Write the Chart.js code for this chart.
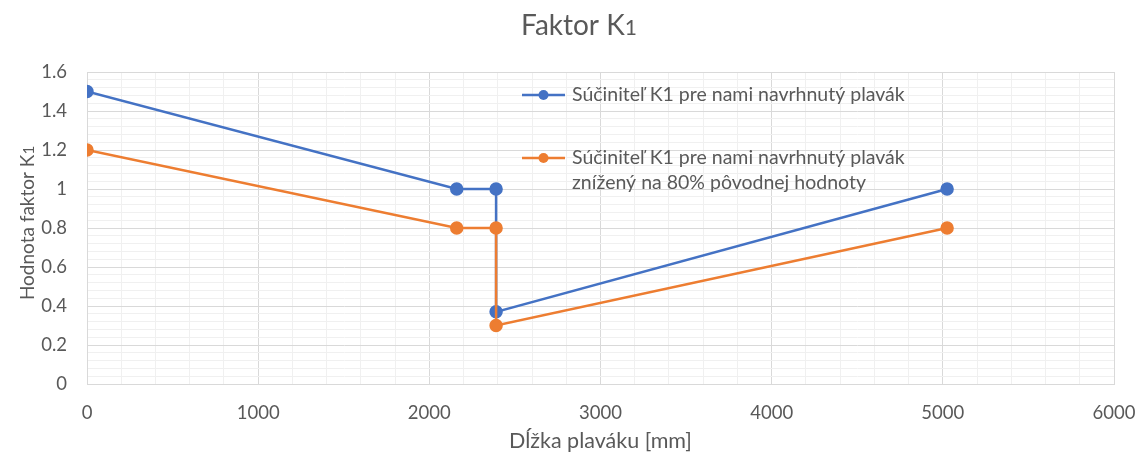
<!DOCTYPE html>
<html>
<head>
<meta charset="utf-8">
<script src="https://cdn.jsdelivr.net/npm/chart.js@4"></script>
<style>
	html, body {margin: 0; padding: 0; background: #ffffff;}
	#wrap {width: 1142px; height: 457px;}
</style>
</head>
<body>
<div id="wrap"><canvas id="chart"></canvas></div>
<script>
// dĺžka plaváku [mm] a hodnoty K1
var lengths = [0, 2160, 2390, 2390, 5025];
var k1Design = [1.5, 1.0, 1.0, 0.37, 1.0];
var k1Reduced = [1.2, 0.8, 0.8, 0.3, 0.8];

var seriesNames = [
	["Súčiniteľ K1 pre nami navrhnutý plavák"],
	["Súčiniteľ K1 pre nami navrhnutý plavák", "znížený na 80% pôvodnej hodnoty"],
];
var seriesColors = ["#4472C4", "#ED7D31"];

const FONT = "Lato, 'Open Sans', sans-serif";
const TEXT = "#595959";

function points(xs, ys) {
	return xs.map((x, i) => ({"x": x, "y": ys[i]}));
}

// text like "K" + smaller "1"
function drawRich(ctx, parts, x, y) {
	var total = 0;
	parts.forEach(function (p) {
		ctx.font = p.size + "px " + FONT;
		total += ctx.measureText(p.text).width;
	});
	var cx = x - total / 2;
	parts.forEach(function (p) {
		ctx.font = p.size + "px " + FONT;
		ctx.textAlign = "left";
		ctx.textBaseline = "alphabetic";
		ctx.fillText(p.text, cx, y);
		cx += ctx.measureText(p.text).width;
	});
}

const titlesPlugin = {
	id: "titles",
	afterDraw(chart) {
		const ctx = chart.ctx;
		ctx.save();
		ctx.fillStyle = TEXT;
		drawRich(ctx, [{"text": "Faktor K", "size": 28}, {"text": "1", "size": 21}], 579, 35);

		ctx.translate(28, 223);
		ctx.rotate(-Math.PI / 2);
		drawRich(ctx, [{"text": "Hodnota faktor K", "size": 19}, {"text": "1", "size": 15}], 0, 6);
		ctx.restore();
	},
};

const legendPlugin = {
	id: "inlineLegend",
	afterDatasetsDraw(chart) {
		const ctx = chart.ctx;
		const area = chart.chartArea;
		const rows = [95, 158];
		ctx.save();
		seriesNames.forEach(function (lines, i) {
			const y = rows[i];
			const x0 = area.left + 435;
			ctx.strokeStyle = seriesColors[i];
			ctx.lineWidth = 2.5;
			ctx.beginPath();
			ctx.moveTo(x0, y);
			ctx.lineTo(x0 + 43, y);
			ctx.stroke();
			ctx.fillStyle = seriesColors[i];
			ctx.beginPath();
			ctx.arc(x0 + 21.5, y, 5, 0, Math.PI * 2);
			ctx.fill();

			ctx.fillStyle = TEXT;
			ctx.font = "19.5px " + FONT;
			ctx.textAlign = "left";
			ctx.textBaseline = "middle";
			lines.forEach(function (line, j) {
				ctx.fillText(line, x0 + 50, y + j * 25);
			});
		});
		ctx.restore();
	},
};

function isMajor(value, step) {
	return Math.abs(value / step - Math.round(value / step)) < 1e-6;
}

var chart = new Chart(document.getElementById("chart"), {
	"type": "scatter",
	"data": {
		"datasets": [
			{
				"label": seriesNames[0].join(" "),
				"data": points(lengths, k1Design),
				"showLine": true,
				"borderColor": seriesColors[0],
				"backgroundColor": seriesColors[0],
				"borderWidth": 2.5,
				"pointRadius": 5.5,
				"pointHoverRadius": 5.5,
				"order": 2,
			},
			{
				"label": seriesNames[1].join(" "),
				"data": points(lengths, k1Reduced),
				"showLine": true,
				"borderColor": seriesColors[1],
				"backgroundColor": seriesColors[1],
				"borderWidth": 2.5,
				"pointRadius": 5.5,
				"pointHoverRadius": 5.5,
				"order": 1,
			},
		],
	},
	"options": {
		"responsive": true,
		"maintainAspectRatio": false,
		"animation": false,
		"layout": {
			"padding": {"top": 72, "right": 28, "left": 0, "bottom": 0},
		},
		"plugins": {
			"legend": {"display": false},
			"title": {"display": false},
			"tooltip": {"enabled": false},
		},
		"scales": {
			"x": {
				"type": "linear",
				"min": 0,
				"max": 6000,
				"afterFit": (scale) => {
					scale.height = 73;
					scale.paddingLeft = 0;
					scale.paddingRight = 0;
				},
				"ticks": {
					"stepSize": 200,
					"autoSkip": false,
					"maxRotation": 0,
					"padding": 18,
					"color": TEXT,
					"font": {"family": FONT, "size": 18.5},
					"callback": (value) => isMajor(value, 1000) ? String(value) : "",
				},
				"grid": {
					"drawTicks": false,
					"color": (c) => isMajor(c.tick.value, 1000) ? "#d9d9d9" : "#f0f0f0",
					"lineWidth": 1,
				},
				"border": {"color": "#d9d9d9"},
				"title": {
					"display": true,
					"text": "Dĺžka plaváku [mm]",
					"color": TEXT,
					"font": {"family": FONT, "size": 21.5},
					"padding": {"top": 2, "bottom": 3},
				},
			},
			"y": {
				"type": "linear",
				"min": 0,
				"max": 1.6,
				"afterFit": (scale) => {
					scale.width = 87;
					scale.paddingTop = 0;
					scale.paddingBottom = 0;
				},
				"ticks": {
					"stepSize": 0.04,
					"autoSkip": false,
					"padding": 20,
					"color": TEXT,
					"font": {"family": FONT, "size": 18.5},
					"callback": (value) => isMajor(value, 0.2) ? String(Number(value.toFixed(2))) : "",
				},
				"grid": {
					"drawTicks": false,
					"color": (c) => isMajor(c.tick.value, 0.2) ? "#d9d9d9" : "#f0f0f0",
					"lineWidth": 1,
				},
				"border": {"color": "#d9d9d9"},
			},
		},
	},
	"plugins": [titlesPlugin, legendPlugin],
});
</script>
</body>
</html>
